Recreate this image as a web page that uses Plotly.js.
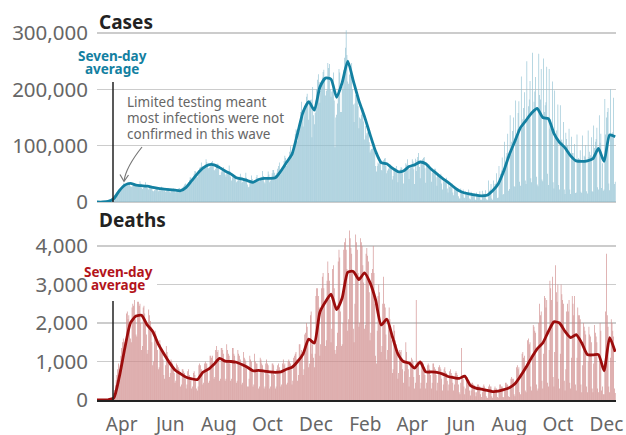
<!DOCTYPE html>
<html>
<head>
<meta charset="utf-8">
<script src="https://cdn.plot.ly/plotly-3.0.1.min.js"></script>
<style>html,body{margin:0;padding:0;background:#fff;}#chart{width:626px;height:435px;}</style>
</head>
<body>
<div id="chart"></div>
<script>
// First day of the daily series
const startDate = '2020-03-01';

// Daily reported cases (thousands), one row per week, Sunday..Saturday
const casesDaily = [
0,0,0,0,0,0,0,
0.1,0.2,0.3,0.4,0.5,0.7,1,
1,2,2,3,5,6,7,
9,10,11,13,17,18,19,
19,21,25,26,28,33,33,
28,30,29,31,33,35,34,
28,27,27,29,31,33,32,
27,28,27,28,31,37,33,
26,23,25,27,29,35,30,
25,24,22,25,27,28,26,
20,19,21,21,27,26,25,
19,22,20,21,27,24,23,
19,20,18,19,22,24,24,
19,17,20,20,22,24,22,
18,17,18,21,23,25,25,
19,18,23,26,28,31,33,
27,31,32,35,39,44,43,
41,39,45,50,55,54,46,
44,48,57,61,62,70,63,
59,58,64,66,76,71,63,
60,61,63,68,71,73,68,
57,56,59,67,68,68,59,
48,48,53,55,58,62,56,
49,45,51,53,54,65,55,
45,38,44,47,48,48,45,
35,37,38,40,45,50,45,
34,36,40,39,43,52,43,
31,26,27,34,36,47,41,
35,34,38,39,44,48,42,
38,37,40,39,44,55,46,
35,33,40,40,45,54,49,
35,38,43,51,57,57,52,
48,41,52,59,64,70,58,
49,59,62,63,73,82,78,
64,67,74,79,89,99,88,
79,85,92,104,121,129,127,
108,121,139,141,160,178,158,
134,152,162,166,187,192,176,
146,174,181,182,115,204,154,
138,158,180,200,217,227,213,
176,197,213,221,231,235,219,
189,197,200,247,238,245,200,
187,196,200,230,180,97,150,
155,175,200,236,230,160,160,
205,199,234,256,274,305,261,
214,210,226,228,235,247,200,
173,142,175,190,195,190,170,
131,150,148,155,163,167,143,
111,135,118,122,124,135,106,
88,92,94,95,100,104,88,
64,54,64,70,68,80,71,
57,56,72,74,77,78,64,
51,56,59,67,67,66,59,
40,46,57,58,60,64,53,
35,51,53,58,62,60,51,
33,52,57,69,66,76,60,
41,59,64,66,76,72,58,
32,77,55,74,80,87,62,
42,72,73,76,78,80,60,
34,66,63,65,67,62,57,
36,52,55,57,59,59,44,
29,46,46,48,47,50,33,
22,38,35,39,38,43,24,
17,32,27,30,31,33,17,
12,26,23,24,25,24,10,
6,6,24,17,15,22,8,
7,19,15,16,15,22,6,
5,18,13,14,13,15,4,
4,17,11,13,12,19,4,
4,20,12,15,14,21,5,
3,4,38,20,22,32,6,
4,38,28,32,33,51,7,
8,64,43,50,56,79,13,
14,107,62,81,87,121,20,
23,154,84,107,126,150,28,
27,180,112,129,158,179,36,
29,223,132,147,167,195,38,
32,250,150,170,182,215,42,
35,265,165,178,196,222,45,
31,28,263,190,182,236,40,
37,255,160,172,177,240,50,
30,236,130,147,136,214,35,
24,198,115,127,113,173,30,
22,172,110,111,106,142,22,
14,123,112,100,87,130,22,
14,116,87,87,81,103,16,
17,120,74,78,76,92,18,
16,118,74,82,80,101,19,
15,127,80,89,83,115,19,
18,136,96,107,112,132,26,
22,154,105,121,25,69,20,
22,183,120,150,160,167,33,
21,200,117,122,124,185,32,
36
];

// Daily reported deaths, one row per week, Sunday..Saturday
const deathsDaily = [
0,0,0,0,1,1,1,
2,4,5,6,7,10,10,
12,18,25,40,50,55,70,
180,260,380,520,650,800,950,
800,900,1150,1350,1500,1600,1500,
1350,1400,2250,2300,2100,2200,1900,
1600,1500,2400,2500,2450,2600,2100,
1700,1650,2550,2550,2450,2500,2000,
1300,1400,2400,2450,2250,2100,1700,
1200,1300,2350,2200,2050,1900,1500,
900,1000,1750,1800,1700,1650,1300,
800,850,1550,1450,1350,1250,1050,
650,550,900,1400,1250,1150,950,
600,700,1050,1000,950,850,700,
450,500,950,900,850,800,650,
350,400,800,800,750,700,550,
300,400,750,800,650,600,500,
300,350,700,750,650,550,300,
250,350,900,950,900,800,650,
400,450,950,1000,950,950,800,
450,500,1150,1150,1100,1150,950,
550,600,1300,1400,1250,1300,1050,
500,550,1350,1350,1300,1200,1000,
500,550,1450,1300,1200,1150,950,
500,550,1350,1350,1200,1150,950,
450,500,1300,1200,1150,1050,900,
400,450,1250,1100,1050,1000,850,
350,350,550,1150,1050,1000,800,
350,400,1200,1000,950,950,750,
300,350,1100,1050,950,900,700,
300,350,950,1050,950,900,650,
300,350,750,950,950,900,650,
300,350,800,900,950,850,700,
350,400,950,1050,900,950,750,
400,450,1000,1050,1000,950,850,
400,500,1100,1150,1200,1250,1050,
500,650,1450,1450,1200,1300,1250,
650,800,1700,1750,2000,1900,1600,
850,950,2200,2300,1200,1450,1100,
850,1200,2700,2900,2900,2700,2400,
1150,1450,2900,3200,3300,2900,2500,
1400,1550,3100,3600,3300,3100,2600,
1500,1850,3400,3500,2900,1300,1200,
1400,1750,3600,3900,3700,2300,1400,
1450,2000,3900,4100,4200,3900,3400,
1800,2100,4400,4200,3950,3800,3350,
1850,1500,2500,4300,4100,3900,3300,
1900,2000,4200,4100,4000,3500,3050,
1850,1950,3800,3950,3750,3600,2800,
1550,1750,3300,3400,4000,3300,2500,
1150,950,1800,2700,3000,2800,2000,
1250,1400,2500,3200,2500,2400,1700,
1050,1300,2100,2400,2100,1900,1550,
700,800,1950,1800,1550,1450,1200,
550,700,1300,1250,1300,1100,800,
450,750,1000,1500,1250,1000,800,
350,600,1000,1100,1050,1000,600,
300,450,2600,900,1000,900,650,
300,450,900,1000,950,850,650,
300,450,900,950,900,800,650,
300,450,950,950,850,800,650,
250,450,850,900,850,800,550,
250,400,800,850,750,700,500,
250,400,750,800,700,650,450,
250,400,700,750,700,650,400,
200,150,450,1350,600,550,350,
150,300,550,600,500,500,250,
120,250,450,450,400,380,200,
100,200,400,400,350,350,150,
80,200,350,400,350,300,100,
50,60,350,400,350,350,100,
60,200,300,350,300,300,80,
60,250,400,400,350,350,80,
70,300,450,450,400,400,100,
80,350,550,600,550,550,150,
100,500,850,900,800,850,200,
150,700,1200,1250,1100,1150,250,
200,900,1550,1600,1450,1500,350,
250,1100,1950,1900,1800,1750,400,
250,300,2000,2500,2200,2300,500,
300,1200,2700,2650,2400,2600,450,
350,1300,3100,2900,2600,3200,600,
350,1250,3500,2800,2550,3000,550,
300,1200,3000,2750,2600,2500,500,
250,800,2300,2500,2300,2600,450,
300,1100,2700,2500,2200,2700,400,
250,1100,2400,2200,2200,2100,400,
200,900,2000,1900,1800,1700,350,
200,1000,1900,1700,1650,1500,300,
200,950,1950,1750,1650,1500,300,
200,1000,2000,1800,250,350,150,
150,1000,2300,3800,2200,1900,350,
200,1100,2100,2000,1800,1650,300,
180
];

// Seven-day averages read weekly (every Sunday from startDate)
const casesAvg = [0,0,1,6,20,30,33,30,29,28,
26,24,23,22,21,20,26,38,50,60,
66,66,61,55,50,43,41,38,35,40,
42,42,43,55,70,85,122,160,178,163,
204,220,218,186,212,250,215,180,152,120,
90,70,68,60,54,55,63,66,71,68,
58,50,42,35,27,20,16,14,12,11,
12,20,32,55,84,108,132,145,158,166,
150,148,122,106,96,82,73,72,73,77,
95,72,119,116];

const deathsAvg = [0,1,6,50,600,1350,2000,2180,2200,1950,
1780,1450,1200,970,780,680,590,550,530,720,
800,930,1080,1010,1000,980,920,850,760,770,
750,730,720,730,800,850,1000,1200,1580,1480,
2280,2550,2750,2350,2650,3320,3340,3130,3300,3050,
2600,1950,2100,1650,1200,1000,960,830,990,730,
730,720,680,610,580,560,620,380,310,280,
250,220,230,270,320,420,620,850,1100,1330,
1480,1780,2030,2000,1780,1620,1700,1480,1180,1170,
1180,760,1620,1250];

const xTickFormat = '%b';
const casesTicks = [0, 100000, 200000, 300000];
const deathsTicks = [0, 1000, 2000, 3000, 4000];

// ---- helpers ----
const t0 = Date.parse(startDate + 'T00:00:00Z');
function dayStr(i){ return new Date(t0 + i*86400000).toISOString().slice(0,10); }
const dailyDates = casesDaily.map((_, i) => dayStr(i));
const weeklyDates = casesAvg.map((_, i) => dayStr(7*i));

const L = 97, R = 10, T = 0, B = 35, W = 626, H = 435;
const PW = W - L - R, PH = H - T - B;
const px = x => (x - L) / PW;
const py = y => (PH + T - y) / PH;

const teal = '#1380A1', red = '#9c0c0c', redText = '#b3141b';
const yTickFont = {family: 'Noto Sans', size: 20.5, color: '#666'};
const xTickFont = {family: 'Noto Sans', size: 19, color: '#666'};

const traces = [
  {type:'bar', x: dailyDates, y: casesDaily.map(v => v*1000), xaxis:'x', yaxis:'y2',
   marker:{color:'#8fc0d2', line:{width:0}}, hoverinfo:'skip'},
  {type:'scatter', mode:'lines', x: weeklyDates, y: casesAvg.map(v => v*1000), xaxis:'x', yaxis:'y2',
   line:{color:teal, width:2.8, shape:'spline', smoothing:0.6}, hoverinfo:'skip'},
  {type:'bar', x: dailyDates, y: deathsDaily, xaxis:'x', yaxis:'y',
   marker:{color:'#cf8a8a', line:{width:0}}, hoverinfo:'skip'},
  {type:'scatter', mode:'lines', x: weeklyDates, y: deathsAvg, xaxis:'x', yaxis:'y',
   line:{color:red, width:2.8, shape:'spline', smoothing:0.6}, hoverinfo:'skip'}
];

function ann(text, x, y, opts){
  return Object.assign({text, xref:'paper', yref:'paper', x: px(x), y: py(y),
    showarrow:false, xanchor:'center', yanchor:'middle'}, opts);
}

const layout = {
  width: W, height: H,
  margin: {l:L, r:R, t:T, b:B},
  paper_bgcolor:'#fff', plot_bgcolor:'#fff',
  showlegend:false, bargap:0.2,
  font:{family:'Noto Sans', color:'#222'},
  xaxis: {type:'date', range:['2020-03-01','2021-12-13'], tick0:'2020-04-01', dtick:'M2',
    tickformat: xTickFormat, showgrid:false, zeroline:false, showline:true, linecolor:'#222', linewidth:2,
    ticks:'', tickfont: xTickFont, ticklabelstandoff: 6, anchor:'y', fixedrange:true},
  yaxis: {domain:[0, py(226.75)], range:[0,4500], tickvals: deathsTicks, tickformat:',',
    showgrid:true, gridcolor:'#cccccc', gridwidth:1.5, zeroline:false, ticks:'', tickfont: yTickFont,
    ticklabelstandoff: 8, anchor:'x'},
  yaxis2: {domain:[py(202), py(27.4)], range:[0,310000], tickvals: casesTicks, tickformat:',',
    showgrid:true, gridcolor:'#cccccc', gridwidth:1.5, zeroline:true, zerolinecolor:'#cccccc', zerolinewidth:1.5,
    ticks:'', tickfont: yTickFont, ticklabelstandoff: 8, anchor:'x'},
  shapes: [
    {type:'rect', xref:'paper', yref:'paper', x0:px(88), x1:px(157), y0:py(292), y1:py(264),
     fillcolor:'#fff', line:{width:0}, layer:'above'},
    {type:'line', xref:'paper', yref:'paper', x0:px(113), x1:px(113), y0:py(82), y1:py(202),
     line:{color:'#222', width:1.5}, layer:'above'},
    {type:'line', xref:'paper', yref:'paper', x0:px(113), x1:px(113), y0:py(301), y1:py(400),
     line:{color:'#222', width:1.5}, layer:'above'},
    {type:'path', xref:'paper', yref:'paper', layer:'above',
     path:`M ${px(142)},${py(147)} Q ${px(126)},${py(167)} ${px(124)},${py(181)}`,
     line:{color:'#777', width:1.2}},
    {type:'path', xref:'paper', yref:'paper', layer:'above',
     path:`M ${px(120)},${py(174.5)} L ${px(124)},${py(181.5)} L ${px(128.5)},${py(175)}`,
     line:{color:'#777', width:1.2}}
  ],
  annotations: [
    ann('<b>Cases</b>', 97, 22, {xanchor:'left', font:{size:19, color:'#222'}}),
    ann('<b>Deaths</b>', 97, 220, {xanchor:'left', font:{size:19, color:'#222'}}),
    ann('<b>Seven-day</b>', 112, 56, {font:{size:13.5, color:teal}}),
    ann('<b>average</b>', 112, 69, {font:{size:13.5, color:teal}}),
    ann('<b>Seven-day</b>', 118, 272, {font:{size:13.5, color:redText}}),
    ann('<b>average</b>', 118, 285, {font:{size:13.5, color:redText}}),
    ann('Limited testing meant', 125, 102.5, {xanchor:'left', font:{size:13.5, color:'#666'}}),
    ann('most infections were not', 125, 118, {xanchor:'left', font:{size:13.5, color:'#666'}}),
    ann('confirmed in this wave', 125, 133.5, {xanchor:'left', font:{size:13.5, color:'#666'}})
  ]
};

Plotly.newPlot('chart', traces, layout, {displayModeBar:false, staticPlot:true});
</script>
</body>
</html>
